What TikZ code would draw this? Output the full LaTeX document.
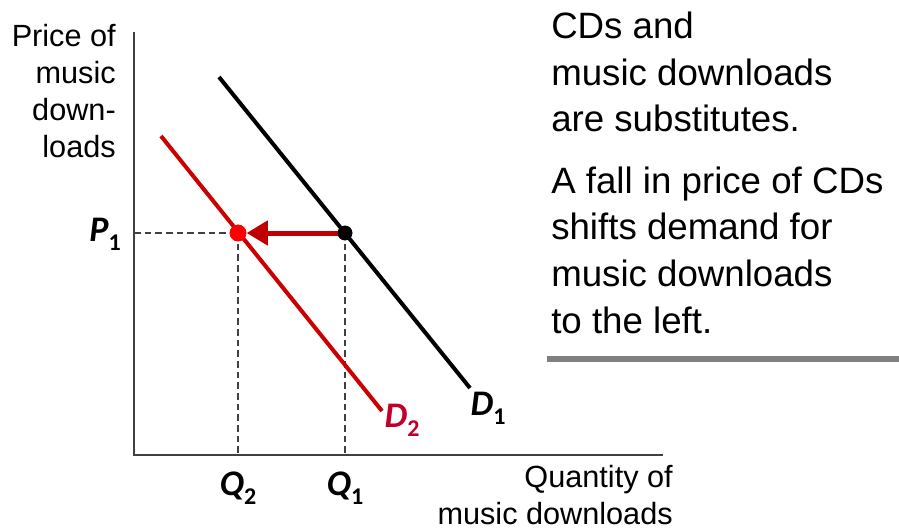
\documentclass[tikz,border=0pt]{standalone}
\usepackage{fontspec}
\setmainfont{Liberation Sans}
\newfontfamily\labfont{Carlito}
\usetikzlibrary{arrows.meta}
\definecolor{demred}{HTML}{CC0000}
\definecolor{arrred}{HTML}{C00000}
\definecolor{dotred}{HTML}{FF0000}
\definecolor{dlabred}{HTML}{C0002A}
\definecolor{axisgray}{HTML}{404040}
\definecolor{rulegray}{HTML}{808080}
\newcommand{\ecolab}[2]{{\labfont\bfseries\itshape #1}\raisebox{-0.25em}{\fontsize{18}{18}\selectfont\labfont\bfseries #2}}
\begin{document}
\begin{tikzpicture}[x=0.75pt,y=-0.75pt,
 axisline/.style={draw=axisgray,line width=1.2pt},
 guide/.style={draw=axisgray,line width=1.1pt,dash pattern=on 5pt off 3pt},
 demand/.style={line width=3pt},
 dotnode/.style={circle,inner sep=0pt,minimum size=#1},
 axtext/.style={font=\fontsize{23}{27.5}\selectfont,align=right,inner sep=0pt},
 sidetext/.style={font=\fontsize{27.5}{35}\selectfont,align=left,inner sep=0pt},
 eco/.style={font=\fontsize{27}{27}\selectfont,inner sep=0pt}]
\useasboundingbox (0,0) rectangle (899,531);
% axes
\coordinate (origin) at (134,455);
\coordinate (ytop) at (134,32);
\coordinate (xend) at (663,455);
\coordinate (p1ax) at (134,233);
\coordinate (q2ax) at (238,455);
\coordinate (q1ax) at (345,455);
\draw[axisline] (ytop) -- (origin) -- (xend);
% equilibrium points
\node[dotnode=11pt,fill=black] (e1) at (345,233) {};
\node[dotnode=12.5pt,fill=dotred] (e2) at (238,233) {};
% guides
\draw[guide] (p1ax) -- (e2.center);
\draw[guide] (e2.center) -- (q2ax);
\draw[guide] (e1.center) -- (q1ax);
% demand curves
\coordinate (d1a) at (219,77);
\coordinate (d1b) at (470,388);
\coordinate (d2a) at (161,136);
\coordinate (d2b) at (382,411);
\draw[demand,black] (d1a) -- (d1b);
\draw[demand,demred] (d2a) -- (d2b);
% shift arrow
\draw[arrred,line width=3.75pt,-{Triangle[length=16pt,width=18pt]}] (e1.center) -- (e2);
\node[dotnode=11pt,fill=black] at (e1) {};
\node[dotnode=12.5pt,fill=dotred] at (e2) {};
% labels
\node[eco,anchor=east] (p1) at (121,234) {\ecolab{P}{1}};
\node[eco] (q2) at (238,488) {\ecolab{Q}{2}};
\node[eco] (q1) at (345,488) {\ecolab{Q}{1}};
\node[eco,text=dlabred] (d2l) at (402,420) {\ecolab{D}{2}};
\node[eco] (d1l) at (488,408) {\ecolab{D}{1}};
\node[axtext,anchor=base east] (ylab) at (116,157) {Price of\\music\\down-\\loads};
\node[axtext,anchor=base east] (xlab) at (673,524) {Quantity of\\music downloads};
% side text
\node[sidetext,anchor=base west] (t1) at (551,132) {CDs and\\music downloads\\are substitutes.};
\node[sidetext,anchor=base west] (t2) at (551,333) {A fall in price of CDs\\shifts demand for\\music downloads\\to the left.};
\coordinate (rl) at (547,359);
\coordinate (rr) at (899,359);
\draw[rulegray,line width=4.5pt] (rl) -- (rr);
\end{tikzpicture}
\end{document}
